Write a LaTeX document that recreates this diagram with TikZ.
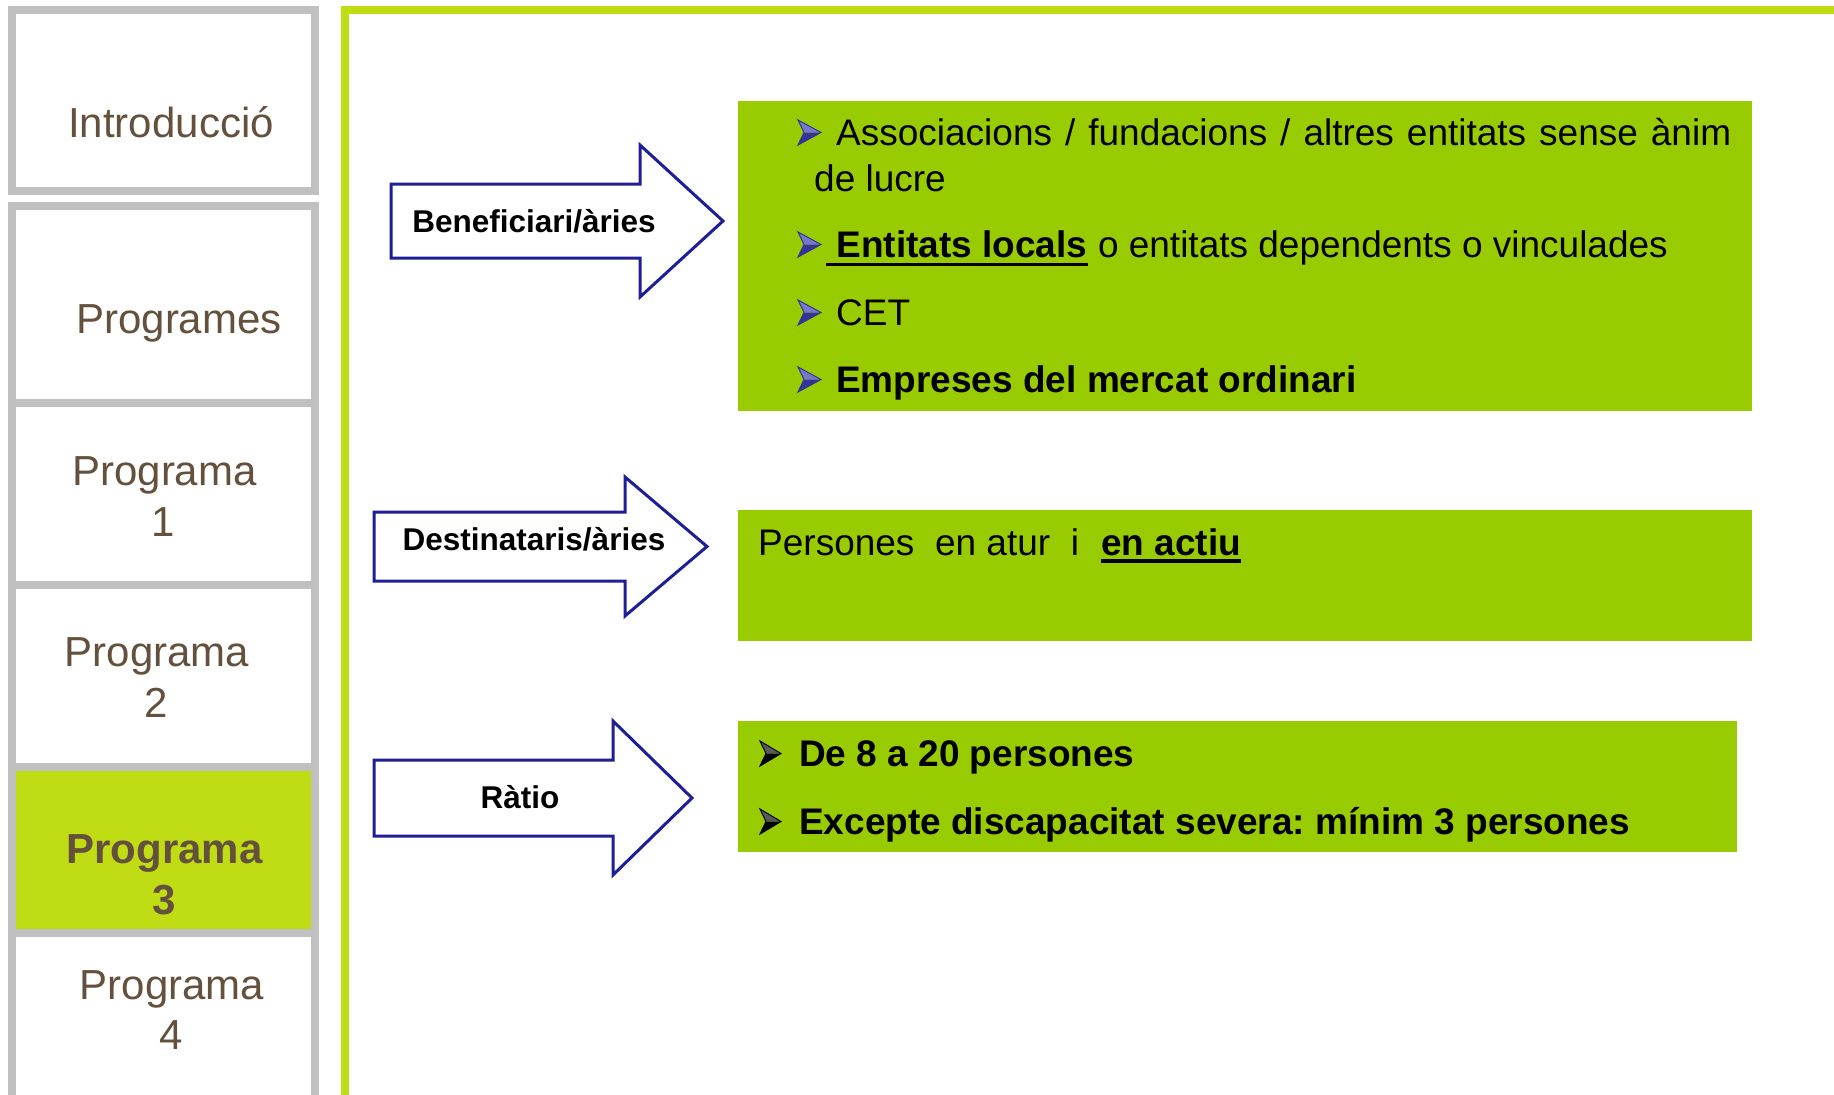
\documentclass[tikz,border=0pt]{standalone}
\usepackage{fontspec}
\setmainfont{Liberation Sans}
\definecolor{gframe}{RGB}{192,192,192}
\definecolor{lime}{RGB}{192,220,20}
\definecolor{boxg}{RGB}{153,204,0}
\definecolor{navy}{RGB}{30,30,150}
\definecolor{brownt}{RGB}{99,81,61}
\definecolor{bulblue}{RGB}{51,51,153}
\definecolor{bullight}{RGB}{120,120,200}
\definecolor{bulgray}{RGB}{90,90,90}
\begin{document}
\frenchspacing
\begin{tikzpicture}[x=1pt,y=-1pt,
  side/.style={text=brownt, font=\fontsize{42}{51}\selectfont, inner sep=0pt, anchor=base},
  sideb/.style={side, font=\fontsize{42}{51}\selectfont\bfseries},
  lbl/.style={font=\fontsize{31.5}{38}\selectfont\bfseries, inner sep=0pt, anchor=base},
  txt/.style={font=\fontsize{37}{44}\selectfont\frenchspacing, inner sep=0pt, anchor=base west},
  gbox/.style={fill=boxg, draw=none, anchor=north west, inner sep=0pt},
  barrow/.style={draw=navy, line width=3pt, fill=white, line join=miter},
  ul/.style={line width=3.5pt, line cap=butt},
  frameline/.style={draw=gframe, line width=8pt},
  bulb/.pic={
    \fill[bullight] (0,-25) -- (23,-12.5) -- (6,-12.5) -- cycle;
    \fill[bulblue] (6,-12.5) -- (23,-12.5) -- (0,0) -- cycle;
    \draw[bulblue, line width=1pt, line join=miter] (0,-25) -- (23,-12.5) -- (0,0) -- (6,-12.5) -- cycle;
  },
  bulk/.pic={
    \fill[bulgray] (0,-25) -- (21,-12.5) -- (6,-12.5) -- cycle;
    \fill[black] (6,-12.5) -- (21,-12.5) -- (0,0) -- cycle;
    \draw[black, line width=1pt, line join=miter] (0,-25) -- (21,-12.5) -- (0,0) -- (6,-12.5) -- cycle;
  }
]
\useasboundingbox (0,0) rectangle (1834,1095);
\begin{scope}
\clip (0,0) rectangle (1834,1095);
\fill[white] (0,0) rectangle (1834,1095);

% sidebar
\fill[lime] (16,770) rectangle (311,929);
\draw[frameline] (12,10) rectangle (315,191);
\draw[frameline] (12,206) rectangle (315,1110);
\draw[frameline] (12,403) -- (315,403);
\draw[frameline] (12,584.5) -- (315,584.5);
\draw[frameline] (12,766.5) -- (315,766.5);
\draw[frameline] (12,932.5) -- (315,932.5);

\node[side] (intro) at (171,137) {Introducció};
\node[side] (progs) at (179,333) {Programes};
\node[side] (p1a) at (164.5,485) {Programa};
\node[side] (p1b) at (163,536) {1};
\node[side] (p2a) at (157,666) {Programa};
\node[side] (p2b) at (156,717) {2};
\node[sideb] (p3a) at (164.5,863) {Programa};
\node[sideb] (p3b) at (164,914) {3};
\node[side] (p4a) at (172,999) {Programa};
\node[side] (p4b) at (171,1049) {4};

% main frame
\draw[lime, line width=8pt] (345,1110) -- (345,10) -- (1850,10);

% green boxes
\node[gbox, minimum width=1014pt, minimum height=310pt] (box1) at (738,101) {};
\node[gbox, minimum width=1014pt, minimum height=131pt] (box2) at (738,510) {};
\node[gbox, minimum width=999pt, minimum height=131pt] (box3) at (738,721) {};

% block arrows
\draw[barrow] (391,184) -- (640,184) -- (640,145) -- (723,221) -- (640,297) -- (640,258) -- (391,258) -- cycle;
\draw[barrow] (374,512) -- (625,512) -- (625,477) -- (707,546.5) -- (625,616) -- (625,581) -- (374,581) -- cycle;
\draw[barrow] (374,760) -- (613,760) -- (613,721) -- (692,798) -- (613,875) -- (613,836) -- (374,836) -- cycle;
\node[lbl] (lben) at (534,232) {Beneficiari/àries};
\node[lbl] (ldes) at (534,550) {Destinataris/àries};
\node[lbl] (lrat) at (520,808) {Ràtio};

% box 1 content
\pic at (798,145) {bulb};
\pic at (798,257) {bulb};
\pic at (798,325) {bulb};
\pic at (798,392) {bulb};
\node[txt] (b1a) at (836,145) {\makebox[895pt][s]{Associacions / fundacions / altres entitats sense ànim}};
\node[txt] (b1b) at (814,191) {de lucre};
\node[txt] (b2a) at (826,257) {\bfseries\ Entitats locals};
\node[txt] (b2b) at (b2a.base east) {\ o entitats dependents o vinculades};
\draw[ul] ([yshift=-7.5pt]b2a.base west) -- ([yshift=-7.5pt]b2a.base east);
\node[txt] (b3) at (836,325) {CET};
\node[txt] (b4) at (836,392) {\bfseries Empreses del mercat ordinari};

% box 2 content
\node[txt] (c1) at (758,555) {Persones\ \ en atur\ \ i};
\node[txt] (c2) at (1101,555) {\bfseries en actiu};
\draw[ul] ([yshift=-6pt]c2.base west) -- ([yshift=-6pt]c2.base east);

% box 3 content
\pic at (760,766) {bulk};
\pic at (760,834) {bulk};
\node[txt] (d1) at (799,766) {\bfseries De 8 a 20 persones};
\node[txt] (d2) at (799,834) {\bfseries Excepte discapacitat severa: mínim 3 persones};
\end{scope}
\end{tikzpicture}
\end{document}
